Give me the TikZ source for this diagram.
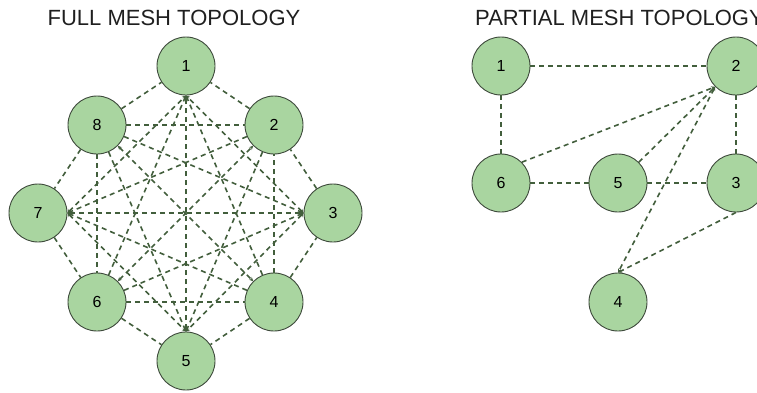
\documentclass[tikz,border=0pt]{standalone}
\usepackage{fontspec}
\setmainfont{Liberation Sans}
\usetikzlibrary{arrows.meta}
\definecolor{hostfill}{RGB}{169,213,160}
\definecolor{hostline}{RGB}{62,74,60}
\definecolor{linkline}{RGB}{66,94,60}
\tikzstyle{host} = [
    draw=hostline,
    fill=hostfill,
    circle,
    line width=0.9pt,
    inner sep=0pt,
    minimum size=58pt,
    font=\fontsize{16}{18}\selectfont]
\tikzstyle{link} = [
    color=linkline,
    line width=1.6pt,
    dash pattern=on 5pt off 4pt]
\tikzstyle{into} = [link, -{Stealth[length=4pt,width=4pt]}]
\tikzstyle{both} = [link, {Stealth[length=4pt,width=4pt]}-{Stealth[length=4pt,width=4pt]}]
\tikzstyle{heading} = [font=\fontsize{22}{26}\selectfont, text=black!88, inner sep=0pt]

\begin{document}
\begin{tikzpicture}[x=1pt,y=-1pt]
        \useasboundingbox (0,0) rectangle (757,392);

        % full mesh
        \node[heading, anchor=base] (fulltitle) at (174,25) {FULL MESH TOPOLOGY};
        \node[host] (f1) at (186,66) {1};
        \node[host] (f2) at (274,125) {2};
        \node[host] (f3) at (333,213) {3};
        \node[host] (f4) at (274,302) {4};
        \node[host] (f5) at (186,361) {5};
        \node[host] (f6) at (97,302) {6};
        \node[host] (f7) at (38,213) {7};
        \node[host] (f8) at (97,125) {8};

        \path[link]
            (f2) edge (f1)
            (f8) edge (f1)
            (f3) edge (f2)
            (f4) edge (f2)
            (f8) edge (f2)
            (f4) edge (f3)
            (f4) edge (f5)
            (f6) edge (f4)
            (f6) edge (f5)
            (f7) edge (f6)
            (f8) edge (f6)
            (f8) edge (f7);
        \path[into]
            (f4) edge (f1.south)
            (f6) edge (f1.south)
            (f2) edge (f5.north)
            (f2) edge (f7.east)
            (f6) edge (f3.west)
            (f8) edge (f3.west)
            (f4) edge (f7.east)
            (f8) edge (f5.north);
        \path[both]
            (f3.west) edge (f1.south)
            (f5.north) edge (f1.south)
            (f7.east) edge (f1.south)
            (f3.west) edge (f5.north)
            (f7.east) edge (f3.west)
            (f7.east) edge (f5.north)
            (f6) edge (f2)
            (f8) edge (f4);

        % partial mesh
        \node[heading, anchor=base west] (parttitle) at (475,25) {PARTIAL MESH TOPOLOGY};
        \node[host] (p1) at (501,66) {1};
        \node[host] (p2) at (736,66) {2};
        \node[host] (p6) at (501,183) {6};
        \node[host] (p5) at (618,183) {5};
        \node[host] (p3) at (736,183) {3};
        \node[host] (p4) at (618,302) {4};

        \path[link]
            (p1) edge (p2)
            (p1) edge (p6)
            (p6) edge (p5)
            (p5) edge (p3)
            (p2) edge (p3);
        \path[into]
            (p6.north east) edge (p2.south west)
            (p5.north east) edge (p2.south west)
            (p3.south) edge (p4.north);
        \path[both]
            (p2.south west) edge (p4.north);
    \end{tikzpicture}
\end{document}
